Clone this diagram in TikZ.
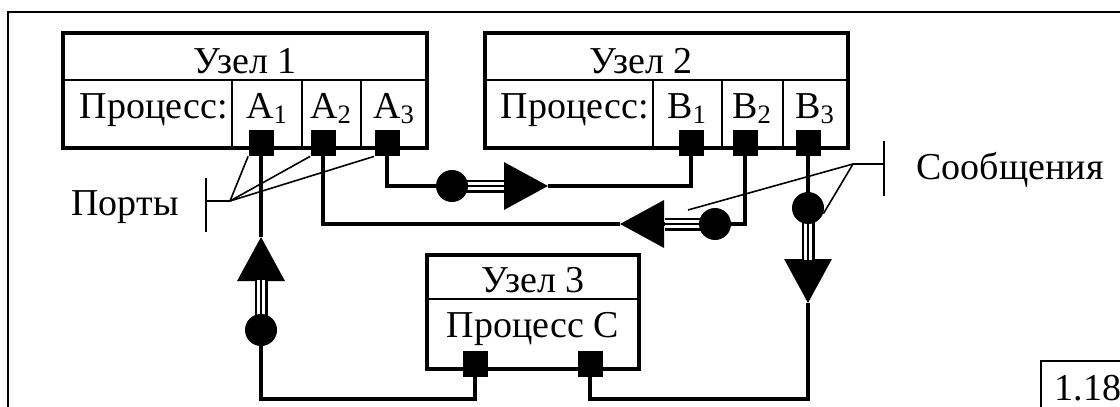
\documentclass[tikz,border=0pt]{standalone}
\usepackage{fontspec}
\setmainfont{Liberation Serif}
\usetikzlibrary{arrows.meta}

\begin{document}
\begin{tikzpicture}[x=0.5pt, y=-0.5pt,
  every node/.style = {font=\fontsize{19}{22}\selectfont, inner sep=0pt},
  nodebox/.style = {draw, rectangle, line width=2pt},
  portbox/.style = {fill, rectangle, minimum width=12.5pt, minimum height=13pt},
  msgdot/.style = {fill, circle, minimum size=16pt},
  wire/.style = {line width=1.7pt},
  cellline/.style = {line width=1pt},
  pointer/.style = {line width=0.8pt},
  bigtip/.style = {-{Triangle[length=22pt, width=23.5pt]}},
  triple/.style = {line width=6.5pt, postaction={draw=white, line width=4pt},
    postaction={draw=black, line width=1pt}}]
  \useasboundingbox (0,0) rectangle (1120,407);
  \draw[line width=1pt] (8,407) |- (1120,12);
  \draw[line width=1pt] (1041,407) |- (1120,361);
  \node[anchor=base] (num) at (1088,400) {1.18};

  \node[nodebox, minimum width=182pt, minimum height=57.5pt] (n1) at (245,90.5) {};
  \draw[cellline] (63,80) -- (427,80);
  \foreach \x in {232,302,361} \draw[cellline] (\x,80) -- (\x,148);
  \node[anchor=base] (u1) at (245,73) {Узел 1};
  \node[anchor=base east] (pr1) at (228,118) {Процесс:};
  \node[anchor=base] (a1) at (267,118) {A\textsubscript{1}};
  \node[anchor=base] (a2) at (331,118) {A\textsubscript{2}};
  \node[anchor=base] (a3) at (394,118) {A\textsubscript{3}};

  \node[nodebox, minimum width=181.5pt, minimum height=57.5pt] (n2) at (666.5,90.5) {};
  \draw[cellline] (485,80) -- (848,80);
  \foreach \x in {653,722,783} \draw[cellline] (\x,80) -- (\x,148);
  \node[anchor=base] (u2) at (641,73) {Узел 2};
  \node[anchor=base east] (pr2) at (649,118) {Процесс:};
  \node[anchor=base] (b1) at (687,118) {B\textsubscript{1}};
  \node[anchor=base] (b2) at (752,118) {B\textsubscript{2}};
  \node[anchor=base] (b3) at (815,118) {B\textsubscript{3}};

  \node[nodebox, minimum width=106pt, minimum height=57pt] (n3) at (533,312) {};
  \draw[cellline] (427,299) -- (639,299);
  \node[anchor=base] (u3) at (533,292) {Узел 3};
  \node[anchor=base] (pr3) at (533,337) {Процесс C};

  \node[portbox] (pA1) at (261,143) {};
  \node[portbox] (pA2) at (323,143) {};
  \node[portbox] (pA3) at (387,143) {};
  \node[portbox] (pB1) at (691,143) {};
  \node[portbox] (pB2) at (745,143) {};
  \node[portbox] (pB3) at (808,143) {};
  \node[portbox] (pC1) at (475,364) {};
  \node[portbox] (pC2) at (590,364) {};

  \coordinate (m1) at (452,186); \coordinate (b1) at (504,186); \coordinate (e1) at (548,186);
  \coordinate (m2) at (715,224); \coordinate (b2) at (665,224); \coordinate (e2) at (620,224);
  \coordinate (m3) at (808,208); \coordinate (b3) at (808,260); \coordinate (e3) at (808,303);
  \coordinate (m4) at (261,330); \coordinate (b4) at (261,280); \coordinate (e4) at (261,237);

  \draw[wire] (pA3.center) |- (m1);
  \draw[wire] (e1) -| (pB1.center);
  \draw[wire] (pB2.center) |- (m2);
  \draw[wire] (e2) -| (pA2.center);
  \draw[wire] (pB3.center) -- (m3);
  \draw[wire] (e3) -- ++(0,96) -| (pC2.center);
  \draw[wire] (pC1.center) -- ++(0,35) -| (m4);
  \draw[wire] (e4) -- (pA1.center);
  \foreach \i in {1,...,4} {
    \draw[wire, bigtip] (m\i) -- (e\i);
    \draw[triple] (m\i) -- (b\i);
    \node[msgdot] (d\i) at (m\i) {};
  }

  \draw[pointer] (206,178) -- (206,232);
  \draw[pointer] (206,201) -- (230,201) coordinate (kP);
  \foreach \p in {pA1,pA2,pA3} \draw[pointer] (kP) -- (\p.south west);
  \node[anchor=base] (ports) at (125,215) {Порты};

  \coordinate (s2) at (688,210);
  \draw[pointer] (884,141) -- (884,196);
  \draw[pointer] (884,164) -- (853,164) coordinate (kS);
  \draw[pointer] (kS) -- (d3.-20);
  \draw[pointer] (kS) -- (s2);
  \node[anchor=base] (msgs) at (1010,179) {Сообщения};
\end{tikzpicture}
\end{document}
